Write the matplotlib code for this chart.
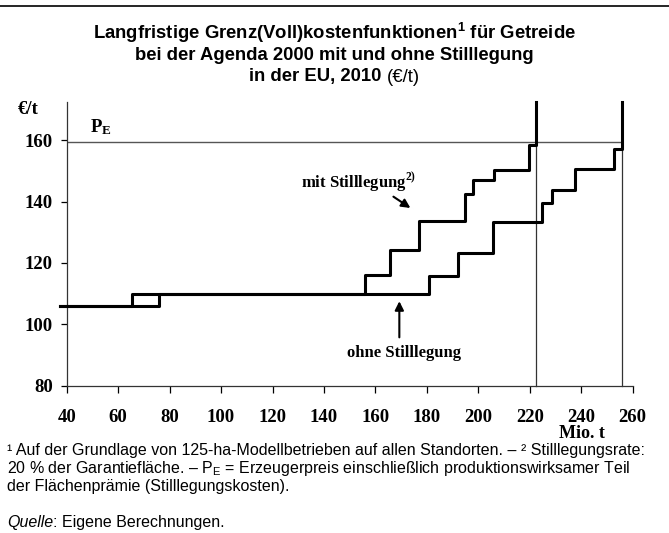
import numpy as np
import matplotlib
matplotlib.use("Agg")
import matplotlib.pyplot as plt
from matplotlib.lines import Line2D

mit_x = [37.5, 65.3, 156.0, 165.7, 176.8, 194.9, 197.9, 206.0, 219.6]
mit_y = [106.0, 110.0, 116.2, 124.2, 133.7, 142.6, 147.0, 150.2, 158.4]
mit_end = 222.6

ohne_x = [37.5, 75.8, 181.0, 192.0, 205.7, 224.8, 228.7, 237.5, 252.8]
ohne_y = [106.0, 110.0, 115.8, 123.1, 133.4, 139.4, 143.7, 150.5, 157.0]
ohne_end = 256.0

y_top = 172.4
p_e = 159.4

xticks = [40, 60, 80, 100, 120, 140, 160, 180, 200, 220, 240, 260]
yticks = [80, 100, 120, 140, 160]

serif = "Liberation Serif"
sans = "Liberation Sans"
plt.rcParams["mathtext.fontset"] = "custom"
plt.rcParams["mathtext.rm"] = sans
plt.rcParams["mathtext.sf"] = sans + ":bold"
plt.rcParams["mathtext.bf"] = serif + ":bold"

fig = plt.figure(figsize=(6.69, 5.33), dpi=100)
ax = fig.add_axes([0.0997, 0.2767, 0.8460, 0.5321])

# Treppen mit senkrechtem Abschluss bis oben
def stairs(xs, ys, xend):
    px = list(xs) + [xend, xend]
    py = list(ys) + [ys[-1], y_top]
    return px, py

px, py = stairs(ohne_x, ohne_y, ohne_end)
ax.step(px, py, where="post", color="black", lw=2.2, clip_on=False, zorder=3)
px, py = stairs(mit_x, mit_y, mit_end)
ax.step(px, py, where="post", color="black", lw=2.2, clip_on=False, zorder=3)

# P_E Linie und senkrechte Hilfslinien
ax.plot([40, ohne_end], [p_e, p_e], color="#555555", lw=1.0, zorder=2)
for xe in [mit_end, ohne_end]:
    ax.plot([xe, xe], [80, y_top], color="#333333", lw=0.9, zorder=2, clip_on=False)

ax.set_xlim(40, 260)
ax.set_ylim(80, 172.5)
ax.spines["top"].set_visible(False)
ax.spines["right"].set_visible(False)
for s in ["left", "bottom"]:
    ax.spines[s].set_linewidth(0.9)
    ax.spines[s].set_color("#333333")

ax.set_xticks(xticks)
ax.set_yticks(yticks)
ax.tick_params(axis="x", direction="out", length=5, width=0.9, pad=12)
ax.tick_params(axis="y", direction="out", length=4, width=0.9, pad=6)
for lab in ax.get_xticklabels() + ax.get_yticklabels():
    lab.set_fontfamily(serif)
    lab.set_fontweight("bold")
    lab.set_fontsize(13.5)

ax.text(49, 164.3, r"$\mathbf{P_E}$", fontsize=13.5, va="center", ha="left")

# Beschriftungen der Kurven
ax.text(153.3, 146.0, "mit Stilllegung$^{\\mathbf{2)}}$", fontsize=12, fontweight="bold",
        family=serif, ha="center", va="center")
ax.annotate("", xy=(174.5, 137.4), xytext=(166.1, 142.1),
            arrowprops=dict(arrowstyle="-|>", color="black", lw=1.5, mutation_scale=13))
ax.text(171.3, 90.5, "ohne Stilllegung", fontsize=12, fontweight="bold",
        family=serif, ha="center", va="center")
ax.annotate("", xy=(169.3, 108.4), xytext=(169.3, 94.8),
            arrowprops=dict(arrowstyle="-|>", color="black", lw=1.5, mutation_scale=13))

fig.text(18 / 669, 1 - 110 / 533, "€/t", fontsize=13.5, fontweight="bold",
         family=serif, ha="left", va="center")
fig.text(581.7 / 669, 1 - 434 / 533, "Mio. t", fontsize=13, fontweight="bold",
         family=serif, ha="center", va="center")

# Titel
fig.add_artist(Line2D([0, 1], [1 - 6 / 533, 1 - 6 / 533], color="black", lw=1.2))
tsize = 13.3
fig.text(0.5, 1 - 33 / 533,
         "Langfristige Grenz(Voll)kostenfunktionen$^{\\mathsf{1}}$ für Getreide",
         fontsize=tsize, fontweight="bold", family=sans, ha="center", va="center")
fig.text(0.5, 1 - 55 / 533, "bei der Agenda 2000 mit und ohne Stilllegung",
         fontsize=tsize, fontweight="bold", family=sans, ha="center", va="center")
t3a = fig.text(0.5, 1 - 77 / 533, "in der EU, 2010 ", fontsize=tsize, fontweight="bold",
               family=sans, ha="left", va="center")
t3b = fig.text(0.5, 1 - 77 / 533, "(€/t)", fontsize=tsize, family=sans,
               ha="left", va="center")
r = fig.canvas.get_renderer()
wa = t3a.get_window_extent(r).width / 669
wb = t3b.get_window_extent(r).width / 669
t3a.set_x(0.5 - (wa + wb) / 2)
t3b.set_x(0.5 - (wa + wb) / 2 + wa)

# Fussnoten
fs = 11.5
fig.text(7 / 669, 1 - 450 / 533,
         "¹ Auf der Grundlage von 125-ha-Modellbetrieben auf allen Standorten. – "
         "² Stilllegungsrate:",
         fontsize=fs, family=sans, ha="left", va="center")
fig.text(7 / 669, 1 - 468 / 533,
         "20 % der Garantiefläche. – P$_{\\mathrm{E}}$ = Erzeugerpreis einschließlich "
         "produktionswirksamer Teil",
         fontsize=fs, family=sans, ha="left", va="center")
fig.text(7 / 669, 1 - 487 / 533, "der Flächenprämie (Stilllegungskosten).",
         fontsize=fs, family=sans, ha="left", va="center")
q = fig.text(7 / 669, 1 - 523 / 533, "Quelle", fontsize=fs, family=sans, style="italic",
             ha="left", va="center")
fig.text(7 / 669 + q.get_window_extent(r).width / 669, 1 - 523 / 533,
         ": Eigene Berechnungen.", fontsize=fs, family=sans, ha="left", va="center")

fig.savefig("out.png", dpi=100)
